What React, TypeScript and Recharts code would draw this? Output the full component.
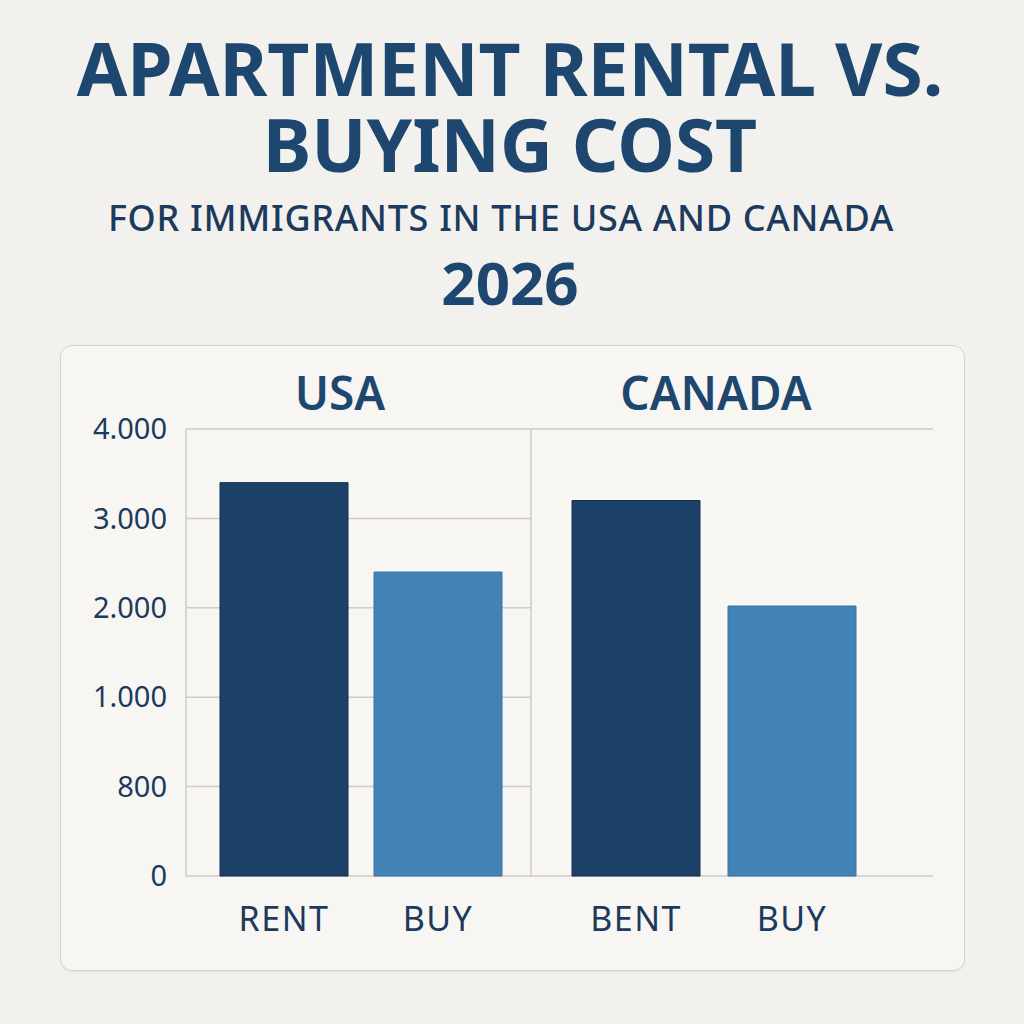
import React from "react";
import { BarChart, Bar, XAxis, YAxis, CartesianGrid, Cell } from "recharts";

// y axis labels are evenly spaced even though the values are not
const tickValues = [0, 800, 1000, 2000, 3000, 4000];
const tickLabels = ["0", "800", "1.000", "2.000", "3.000", "4.000"];

const usaCategories = ["RENT", "BUY"];
const usaValues = [3400, 2400];
const canadaCategories = ["BENT", "BUY"];
const canadaValues = [3200, 2020];

const RENT_COLOR = "#1c4168";
const BUY_COLOR = "#4382b4";
const TEXT = "#1b3a5e";
const TITLE = "#1e4770";
const GRID = "#cfcbc5";
const FONT = "'Noto Sans', 'Open Sans', sans-serif";

// piecewise position on the evenly spaced axis
function toPos(v: number) {
  for (let i = 0; i < tickValues.length - 1; i++) {
    if (v <= tickValues[i + 1]) {
      return i + (v - tickValues[i]) / (tickValues[i + 1] - tickValues[i]);
    }
  }
  return tickValues.length - 1;
}

const buildRows = (cats: string[], vals: number[]) =>
  cats.map((c, i) => ({ label: c, value: vals[i], pos: toPos(vals[i]) }));

const usaData = buildRows(usaCategories, usaValues);
const canadaData = buildRows(canadaCategories, canadaValues);
const yTicks = tickValues.map((_, i) => i);

const xTick = { fontSize: 34, fill: TEXT, fontFamily: FONT, letterSpacing: 1.5 };

function Panel({
  data,
  width,
  axisWidth,
  showLabels,
  padding,
}: {
  data: { label: string; value: number; pos: number }[];
  width: number;
  axisWidth: number;
  showLabels: boolean;
  padding: { left: number; right: number };
}) {
  return (
    <BarChart
      width={width}
      height={537}
      data={data}
      margin={{ top: 20, right: 0, bottom: 0, left: 0 }}
      barSize={128}
    >
      <CartesianGrid vertical={false} stroke={GRID} strokeWidth={1.5} />
      <XAxis
        dataKey="label"
        axisLine={false}
        tickLine={false}
        tickSize={0}
        tickMargin={31}
        height={70}
        padding={padding}
        tick={xTick}
        interval={0}
      />
      <YAxis
        type="number"
        domain={[0, tickValues.length - 1]}
        ticks={yTicks}
        interval={0}
        width={axisWidth}
        tick={showLabels ? { fontSize: 29, fill: TEXT, fontFamily: FONT } : false}
        tickFormatter={(v: number) => tickLabels[v]}
        axisLine={{ stroke: GRID, strokeWidth: 1.5 }}
        tickLine={false}
        tickSize={0}
        tickMargin={19}
      />
      <Bar dataKey="pos" isAnimationActive={false}>
        {data.map((d, i) => (
          <Cell
            key={d.label + i}
            fill={i === 0 ? RENT_COLOR : BUY_COLOR}
            stroke={i === 0 ? "#142f4d" : "#3a73a2"}
            strokeWidth={1}
          />
        ))}
      </Bar>
    </BarChart>
  );
}

export default function App() {
  return (
    <div
      style={{
        position: "absolute",
        left: 0,
        top: 0,
        width: 1024,
        height: 1024,
        background: "#f3f1ed",
        fontFamily: FONT,
        overflow: "hidden",
      }}
    >
      <div
        style={{
          position: "absolute",
          left: 60,
          top: 345,
          width: 903,
          height: 624,
          background: "#f8f6f2",
          border: "1.5px solid #d7d3cd",
          borderRadius: 12,
          boxShadow: "0 1px 2px rgba(0,0,0,0.06)",
        }}
      />
      <svg
        width={1024}
        height={1024}
        style={{ position: "absolute", left: 0, top: 0 }}
      >
        <g fontFamily={FONT} textAnchor="middle">
          <text x={510} y={96} fontSize={73} fontWeight={700} fill={TITLE}>
            <tspan x={510} y={96}>APARTMENT RENTAL VS.</tspan>
            <tspan x={510} y={172}>BUYING COST</tspan>
          </text>
          <text x={501} y={231} fontSize={36} fontWeight={500} fill={TEXT} letterSpacing={0.7}>
            FOR IMMIGRANTS IN THE USA AND CANADA
          </text>
          <text x={510} y={305} fontSize={60} fontWeight={700} fill={TITLE}>
            2026
          </text>
          <text x={340} y={410} fontSize={46} fontWeight={600} fill={TITLE}>
            USA
          </text>
          <text x={716} y={410} fontSize={46} fontWeight={600} fill={TITLE}>
            CANADA
          </text>
        </g>
      </svg>
      <div style={{ position: "absolute", left: 60, top: 409 }}>
        <Panel
          data={usaData}
          width={471}
          axisWidth={126}
          showLabels
          padding={{ left: 21, right: 16 }}
        />
      </div>
      <div style={{ position: "absolute", left: 529, top: 409 }}>
        <Panel
          data={canadaData}
          width={404}
          axisWidth={2}
          showLabels={false}
          padding={{ left: 27, right: 63 }}
        />
      </div>
    </div>
  );
}
